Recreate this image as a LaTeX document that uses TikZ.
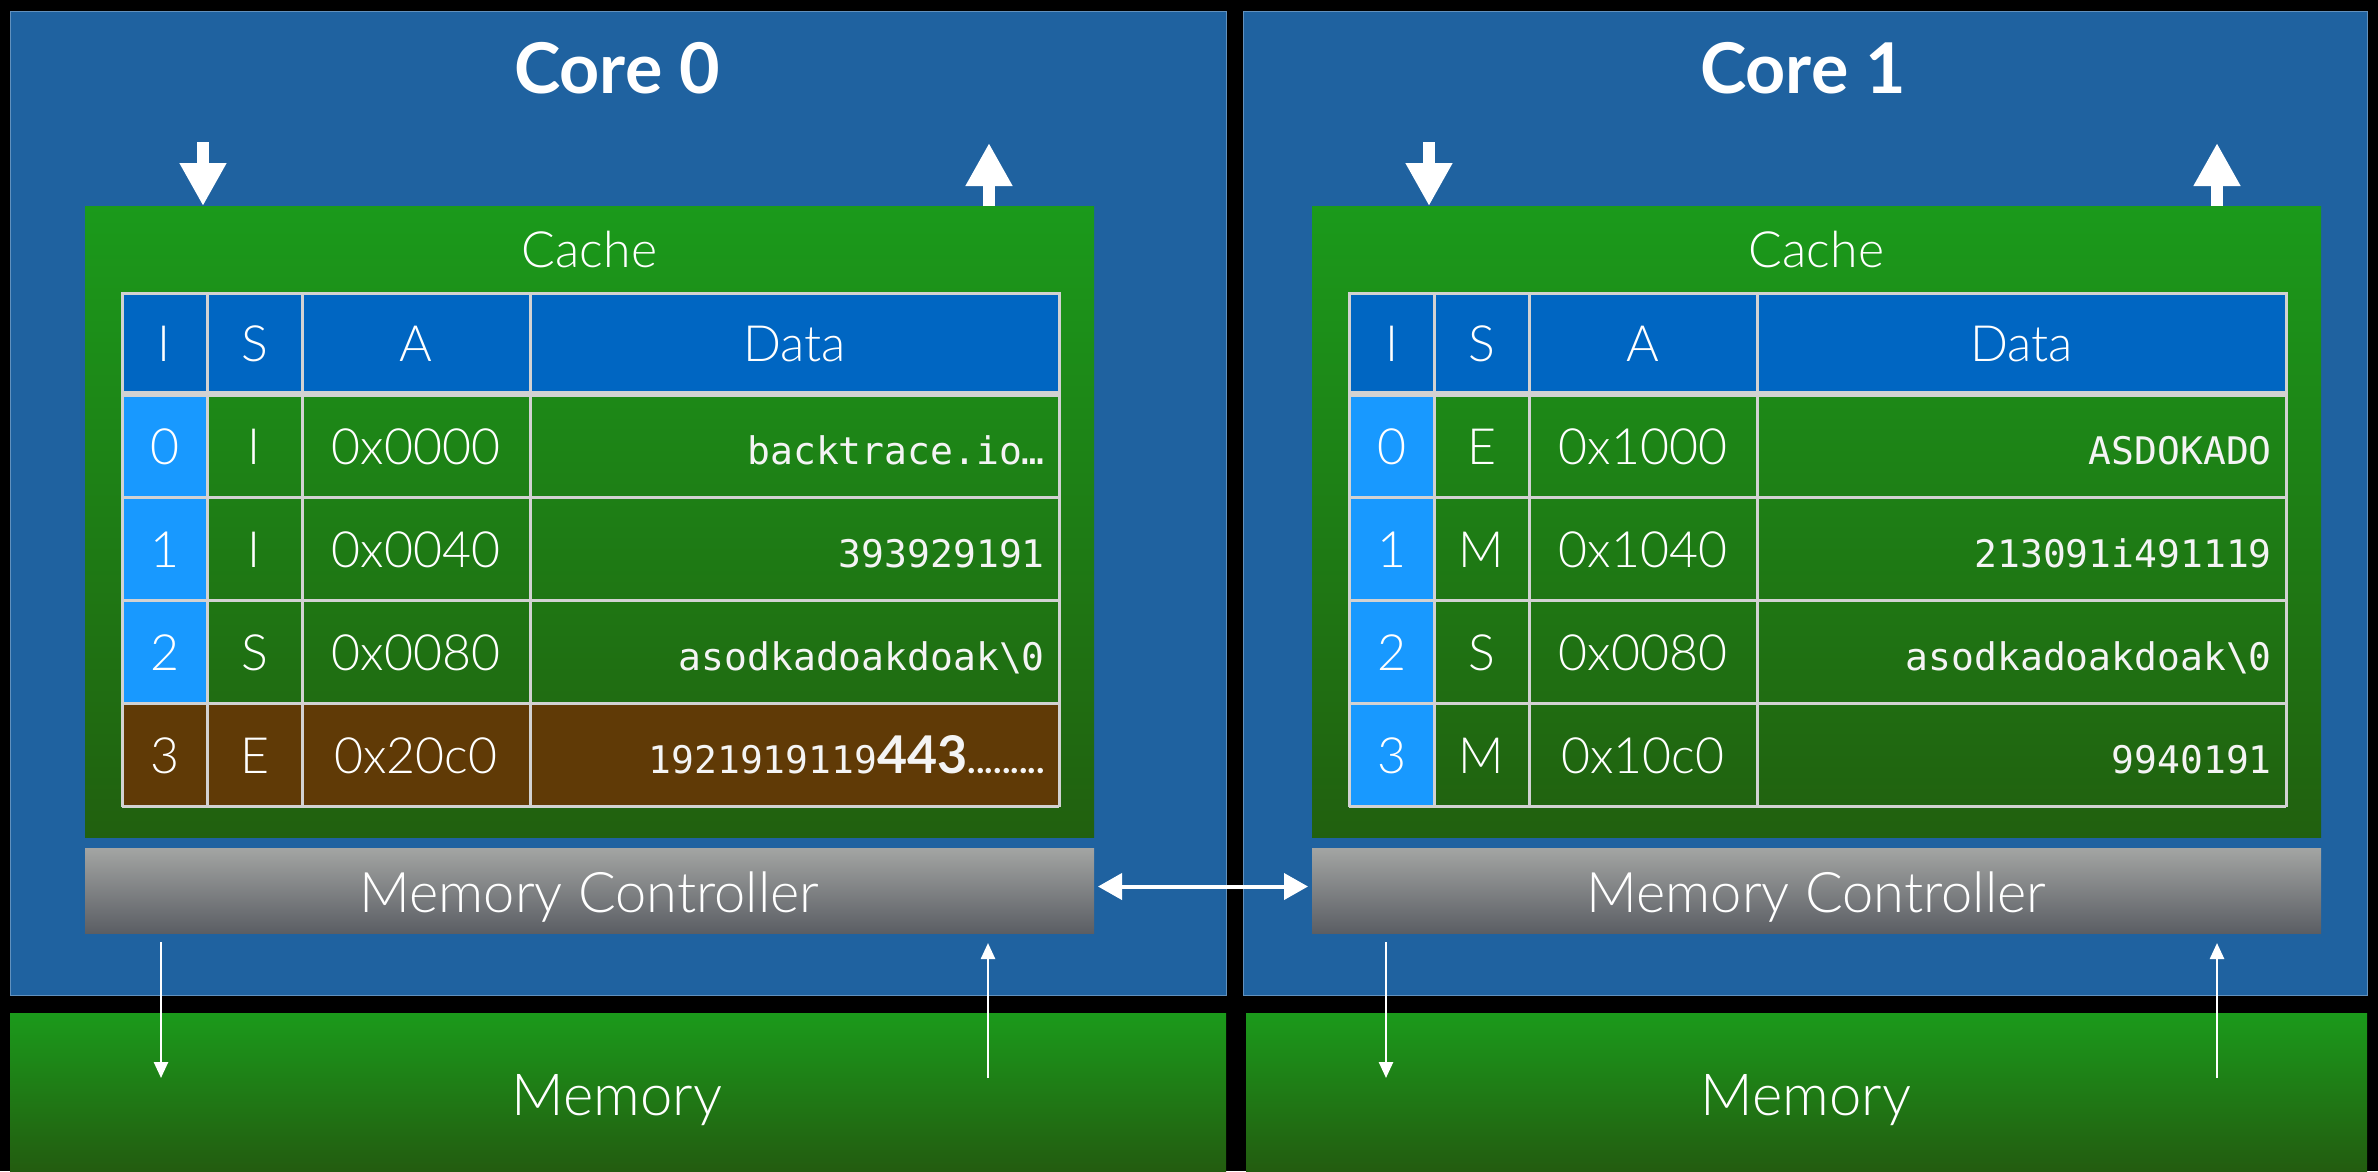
\documentclass[tikz,border=0pt]{standalone}
\usepackage{fontspec}
\setmainfont{Lato}
\newfontfamily\lightfont{Lato Light}
\newfontfamily\monofont{DejaVu Sans Mono}
\usetikzlibrary{arrows.meta}
\definecolor{panelblue}{HTML}{1F62A0}
\definecolor{hdrblue}{HTML}{0066C2}
\definecolor{idxblue}{HTML}{1899FF}
\definecolor{gtop}{HTML}{1B9A1B}
\definecolor{gbot}{HTML}{21600F}
\definecolor{brownrow}{HTML}{603A06}
\definecolor{gridgray}{HTML}{D2D2D2}
\definecolor{mctop}{HTML}{A3A5A3}
\definecolor{mcbot}{HTML}{5B5E64}
\definecolor{memtop}{HTML}{1B9A1B}
\definecolor{membot}{HTML}{235C10}
\definecolor{monotext}{HTML}{F4F4F4}

\newcommand\rnode[7]{\node[#2, anchor=north west, inner sep=0pt, outer sep=0pt,
  minimum width={(#5-#3)*1pt}, minimum height={(#6-#4)*1pt}] (#1) at (#3,#4) {#7};}

\newcommand\tableframe[1]{%
  \rnode{#1hdr}{fill=hdrblue}{122}{293}{1059}{394}{}
  \rnode{#1idx}{fill=idxblue}{122}{394}{207}{806}{}}

\newcommand\tablegrid{%
  \draw[gridline] (122,293) -- (1059,293);
  \draw[gridline] (122,497) -- (1059,497);
  \draw[gridline] (122,600) -- (1059,600);
  \draw[gridline] (122,703) -- (1059,703);
  \draw[gridline] (122,806) -- (1059,806);
  \draw[gridline, line width=6pt] (122,394) -- (1059,394);
  \foreach \gx in {122,207,302,530,1059} {\draw[gridline] (\gx,292) -- (\gx,807);}}

\newcommand\theader[1]{%
  \node[hdrtxt] (#1hI) at (164.5,361) {I};
  \node[hdrtxt] (#1hS) at (254.5,361) {S};
  \node[hdrtxt] (#1hA) at (416,361) {A};
  \node[hdrtxt] (#1hD) at (794.5,361) {Data};}

\newcommand\trow[7]{%
  \node[celltxt] (#1i#2) at (164.5,#3) {#4};
  \node[celltxt] (#1s#2) at (254.5,#3) {#5};
  \node[celltxt] (#1a#2) at (416,#3) {#6};
  \node[datatxt] (#1d#2) at (1045,#3) {#7};}

\tikzset{
  panel/.style={fill=panelblue, draw=panelblue!70!white, line width=1pt},
  cachebox/.style={top color=gtop, bottom color=gbot},
  mcbox/.style={top color=mctop, bottom color=mcbot},
  membox/.style={top color=memtop, bottom color=membot},
  gridline/.style={draw=gridgray, line width=3pt},
  titletxt/.style={text=white, anchor=base, inner sep=0pt, font=\bfseries\fontsize{70}{84}\selectfont},
  labeltxt/.style={text=white, anchor=base, inner sep=0pt, font=\lightfont\fontsize{50}{60}\selectfont},
  mctxt/.style={text=white, anchor=base, inner sep=0pt, font=\lightfont\fontsize{56}{67}\selectfont},
  memtxt/.style={text=white, anchor=base, inner sep=0pt, font=\lightfont\fontsize{58}{70}\selectfont},
  hdrtxt/.style={text=white, anchor=base, inner sep=0pt, font=\lightfont\fontsize{50}{60}\selectfont},
  celltxt/.style={text=white, anchor=base, inner sep=0pt, font=\lightfont\fontsize{50}{60}\selectfont},
  datatxt/.style={text=monotext, anchor=base east, inner sep=0pt, font=\monofont\fontsize{38}{46}\selectfont},
  bigarrow/.style={draw=white, line width=12pt, -{Triangle[width=44pt,length=43pt]}},
  thinarrow/.style={draw=white, line width=2.5pt, -{Triangle[width=14pt,length=16pt]}},
  dblarrow/.style={draw=white, line width=4pt, {Triangle[width=26pt,length=24pt]}-{Triangle[width=26pt,length=24pt]}},
}

\begin{document}
\begin{tikzpicture}[x=1pt,y=-1pt]
\useasboundingbox (0,0) rectangle (2378,1171);
\fill[black] (0,0) rectangle (2378,1171);

% panels
\rnode{core0}{panel}{10}{11}{1226}{995}{}
\rnode{core1}{panel}{1243}{11}{2367}{995}{}
\rnode{mem0}{membox}{10}{1013}{1226}{1171}{}
\rnode{mem1}{membox}{1246}{1013}{2367}{1171}{}
\rnode{cache0}{cachebox}{85}{206}{1094}{837}{}
\rnode{cache1}{cachebox}{1312}{206}{2321}{837}{}
\rnode{mc0}{mcbox}{85}{848}{1094}{933}{}
\rnode{mc1}{mcbox}{1312}{848}{2321}{933}{}

% titles and labels
\node[titletxt] (core0t) at (617,93) {Core 0};
\node[titletxt] (core1t) at (1803,93) {Core 1};
\node[labeltxt] (cache0t) at (589.5,267) {Cache};
\node[labeltxt] (cache1t) at (1816.5,267) {Cache};
\node[mctxt] (mc0t) at (589.5,912) {Memory Controller};
\node[mctxt] (mc1t) at (1816.5,912) {Memory Controller};
\node[memtxt] (mem0t) at (617,1115) {Memory};
\node[memtxt] (mem1t) at (1806,1115) {Memory};

% left table
\tableframe{L}
\rnode{Lbrown}{fill=brownrow}{122}{703}{1059}{806}{}
\tablegrid
\theader{L}
\trow{L}{0}{464}{0}{I}{0x0000}{backtrace.io…}
\trow{L}{1}{567}{1}{I}{0x0040}{393929191}
\trow{L}{2}{670}{2}{S}{0x0080}{asodkadoakdoak\textbackslash 0}
\trow{L}{3}{773}{3}{E}{0x20c0}{1921919119{\normalfont\bfseries\fontsize{52}{62}\selectfont 443}{\normalfont\bfseries\fontsize{36}{42}\selectfont .........}}

% right table
\begin{scope}[xshift=1227pt]
\tableframe{R}
\tablegrid
\theader{R}
\trow{R}{0}{464}{0}{E}{0x1000}{ASDOKADO}
\trow{R}{1}{567}{1}{M}{0x1040}{213091i491119}
\trow{R}{2}{670}{2}{S}{0x0080}{asodkadoakdoak\textbackslash 0}
\trow{R}{3}{773}{3}{M}{0x10c0}{9940191}
\end{scope}

% top arrows
\coordinate (in0) at (203,142);
\coordinate (out0) at (989,143);
\coordinate (in1) at (1429,142);
\coordinate (out1) at (2217,143);
\draw[bigarrow] (in0) -- (in0 |- cache0.north);
\draw[bigarrow] (out0 |- cache0.north) -- (out0);
\draw[bigarrow] (in1) -- (in1 |- cache1.north);
\draw[bigarrow] (out1 |- cache1.north) -- (out1);

% bottom arrows
\coordinate (wr0a) at (161,942);
\coordinate (wr0b) at (161,1078);
\coordinate (rd0a) at (988,1078);
\coordinate (rd0b) at (988,943);
\coordinate (wr1a) at (1386,942);
\coordinate (wr1b) at (1386,1078);
\coordinate (rd1a) at (2217,1078);
\coordinate (rd1b) at (2217,943);
\draw[thinarrow] (wr0a) -- (wr0b);
\draw[thinarrow] (rd0a) -- (rd0b);
\draw[thinarrow] (wr1a) -- (wr1b);
\draw[thinarrow] (rd1a) -- (rd1b);

% controller link
\draw[dblarrow, shorten <=4pt, shorten >=4pt] ([yshift=4pt]mc0.east) -- ([yshift=4pt]mc1.west);
\end{tikzpicture}
\end{document}
